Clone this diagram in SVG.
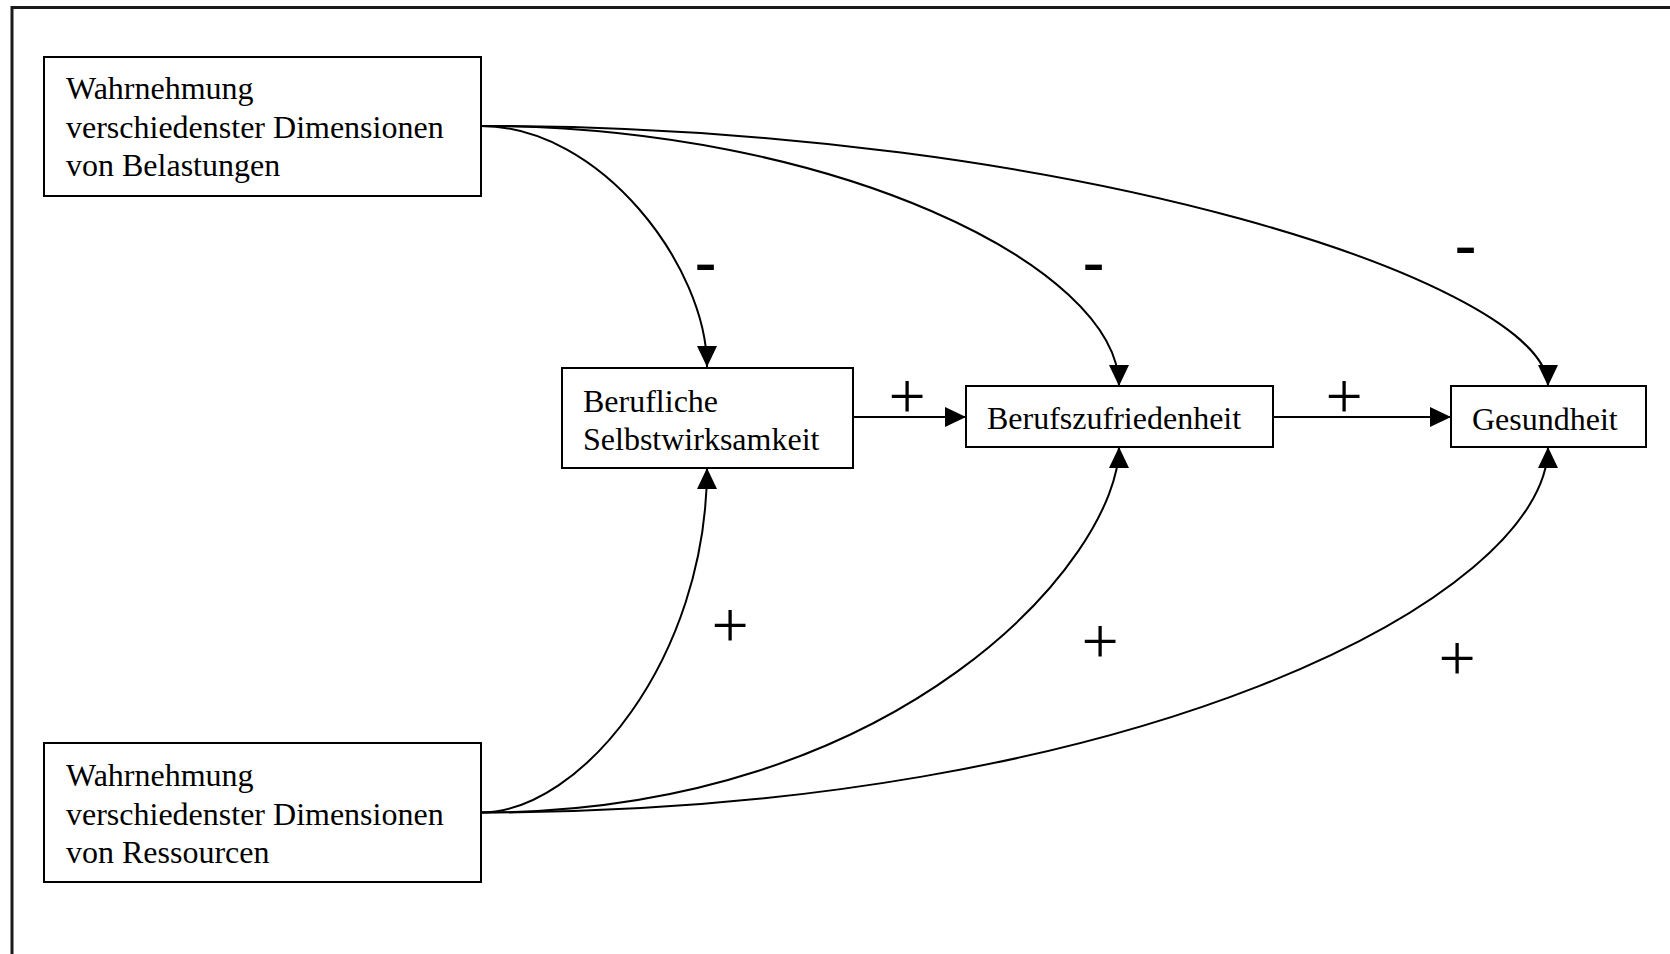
<svg xmlns="http://www.w3.org/2000/svg" width="1670" height="954" viewBox="0 0 1670 954">
<style>
.box{fill:#fff;stroke:#000;stroke-width:2}
.t{font-family:"Liberation Serif","Times New Roman",serif;font-size:32px;fill:#000}
.plus{font-family:"Liberation Serif","Times New Roman",serif;font-size:66px;fill:#000;text-anchor:middle}
.minus{font-family:"Liberation Sans",Arial,sans-serif;font-size:68px;fill:#000;text-anchor:middle}
.edge{fill:none;stroke:#000;stroke-width:2}
</style>
<defs>
<marker id="arr" markerWidth="21" markerHeight="20" refX="21" refY="10" orient="auto" markerUnits="userSpaceOnUse">
<path d="M0,0 L21,10 L0,20 z" fill="#000"/>
</marker>
</defs>
<rect width="1670" height="954" fill="#fff"/>
<path d="M12,954 L12,7.5 L1670,7.5" fill="none" stroke="#1a1a1a" stroke-width="3"/>
<g id="connectors">
<path class="edge" d="M481,126 C601,126 707,267 707,367" marker-end="url(#arr)"/>
<path class="edge" d="M481,126 C831,126 1119,266 1119,386" marker-end="url(#arr)"/>
<path class="edge" d="M481,126 C1081,126 1548,286 1548,386" marker-end="url(#arr)"/>
<path class="edge" d="M481,812.5 C581,812.5 707,658 707,468" marker-end="url(#arr)"/>
<path class="edge" d="M481,812.5 C901,812.5 1119,558 1119,447" marker-end="url(#arr)"/>
<path class="edge" d="M481,812.5 C1131,812.5 1548,598 1548,447" marker-end="url(#arr)"/>
<path class="edge" d="M853,417 L966,417" marker-end="url(#arr)"/>
<path class="edge" d="M1273,417 L1451,417" marker-end="url(#arr)"/>
</g>
<g id="labels">
<text class="minus" x="705.5" y="286">-</text>
<text class="minus" x="1093.5" y="286">-</text>
<text class="minus" x="1465.5" y="269">-</text>
<text class="plus" x="907" y="418">+</text>
<text class="plus" x="1344" y="418">+</text>
<text class="plus" x="730" y="647">+</text>
<text class="plus" x="1100" y="663">+</text>
<text class="plus" x="1457" y="680">+</text>
</g>
<g id="belastungen">
<rect class="box" x="44" y="57" width="437" height="139"/>
<text class="t" x="66" y="99">Wahrnehmung</text>
<text class="t" x="66" y="137.5">verschiedenster Dimensionen</text>
<text class="t" x="66" y="176">von Belastungen</text>
</g>
<g id="ressourcen">
<rect class="box" x="44" y="743" width="437" height="139"/>
<text class="t" x="66" y="786">Wahrnehmung</text>
<text class="t" x="66" y="824.5">verschiedenster Dimensionen</text>
<text class="t" x="66" y="863">von Ressourcen</text>
</g>
<g id="selbstwirksamkeit">
<rect class="box" x="562" y="368" width="291" height="100"/>
<text class="t" x="583" y="412">Berufliche</text>
<text class="t" x="583" y="450">Selbstwirksamkeit</text>
</g>
<g id="berufszufriedenheit">
<rect class="box" x="966" y="386" width="307" height="61"/>
<text class="t" x="987" y="429">Berufszufriedenheit</text>
</g>
<g id="gesundheit">
<rect class="box" x="1451" y="386" width="195" height="61"/>
<text class="t" x="1472" y="430">Gesundheit</text>
</g>
</svg>
